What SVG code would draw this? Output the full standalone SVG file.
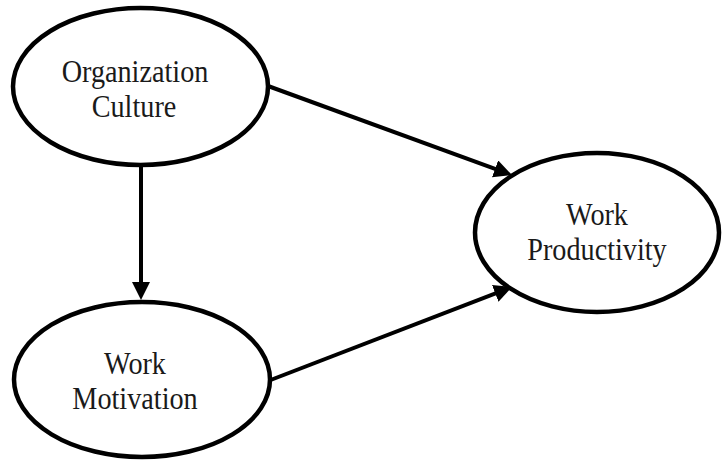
<svg xmlns="http://www.w3.org/2000/svg" width="722" height="460" viewBox="0 0 722 460">
<style>
.node ellipse{fill:#fff;stroke:#000;stroke-width:4.5}
.node text{font-family:"Liberation Serif","Times New Roman",serif;font-size:31px;fill:#1a1a1a;text-anchor:middle}
.conn line{stroke:#000;stroke-width:4}
</style>
<defs>
<marker id="arr" markerUnits="userSpaceOnUse" markerWidth="18" markerHeight="18" refX="8" refY="9" orient="auto">
<path d="M0,0 L18,9 L0,18 z" fill="#000"/>
</marker>
</defs>
<rect width="722" height="460" fill="#fff"/>
<g id="connectors" class="conn">
<line x1="141" y1="166" x2="141" y2="290" marker-end="url(#arr)"/>
<line x1="268" y1="86" x2="502.6" y2="171.6" marker-end="url(#arr)"/>
<line x1="268" y1="381" x2="502.7" y2="290.6" marker-end="url(#arr)"/>
</g>
<g id="org" class="node">
<ellipse cx="140.5" cy="86.5" rx="127.5" ry="78.5"/>
<text transform="matrix(0.91 0 0 1 135 0)" x="0" y="82">Organization</text>
<text transform="matrix(0.91 0 0 1 134 0)" x="0" y="117">Culture</text>
</g>
<g id="mot" class="node">
<ellipse cx="142" cy="379.5" rx="128" ry="77.5"/>
<text transform="matrix(0.91 0 0 1 135 0)" x="0" y="374">Work</text>
<text transform="matrix(0.91 0 0 1 135 0)" x="0" y="409">Motivation</text>
</g>
<g id="prod" class="node">
<ellipse cx="597" cy="232.5" rx="122" ry="79.5"/>
<text transform="matrix(0.91 0 0 1 597 0)" x="0" y="225">Work</text>
<text transform="matrix(0.91 0 0 1 597 0)" x="0" y="260">Productivity</text>
</g>
</svg>
